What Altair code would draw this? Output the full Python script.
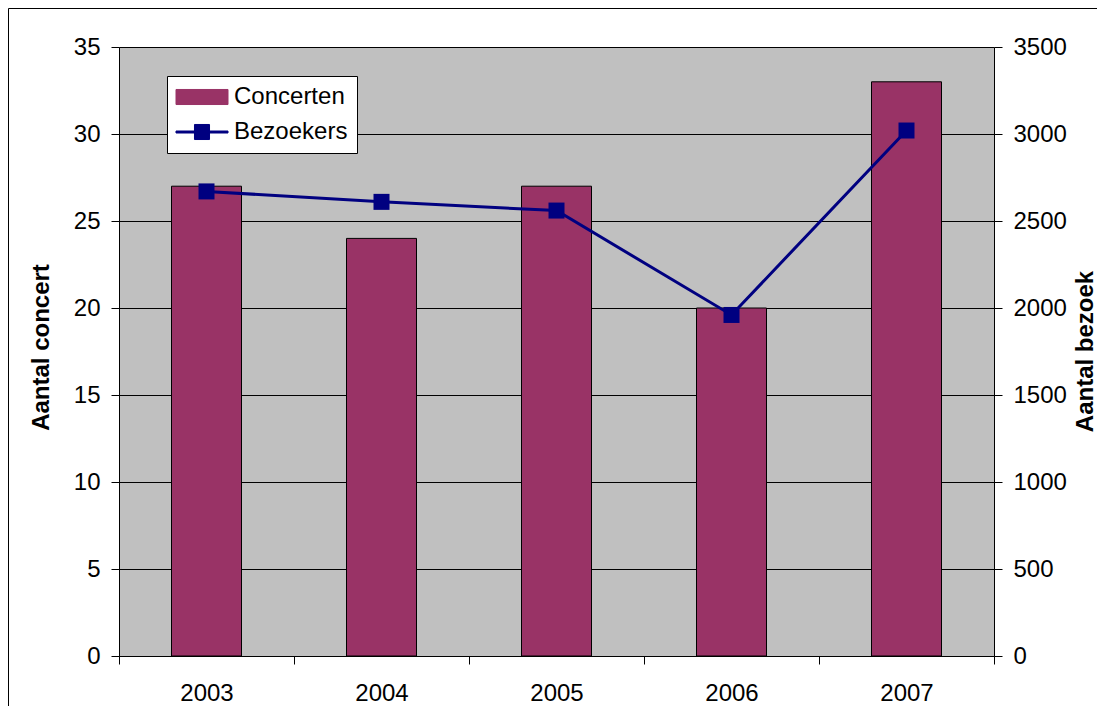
import altair as alt
import pandas as pd

years = [2003, 2004, 2005, 2006, 2007]
concerten = [27, 24, 27, 20, 33]
bezoekers = [2670, 2610, 2560, 1960, 3020]
series_names = ["Concerten", "Bezoekers"]
series_colors = ["#993366", "#000080"]
left_ticks = [0, 5, 10, 15, 20, 25, 30, 35]
right_ticks = [0, 500, 1000, 1500, 2000, 2500, 3000, 3500]
year_edges = [2002.5, 2003.5, 2004.5, 2005.5, 2006.5, 2007.5]

df = pd.DataFrame({"year": years, "Concerten": concerten, "Bezoekers": bezoekers})

W, H = 875, 609
FONT = "Liberation Sans"

color_scale = alt.Scale(domain=series_names, range=series_colors)
rect_path = "M-1.5,-0.94H5V0.94H-1.5Z"
line_path = "M-1.5,-0.125H5V0.125H-1.5Z M0.81,-0.94H2.69V0.94H0.81Z"

legend = alt.Legend(
    title=None, orient="none", legendX=48, legendY=29,
    fillColor="white", strokeColor="black", padding=9, cornerRadius=0,
    rowPadding=11, labelOffset=34, labelFontSize=24, labelFont=FONT,
    labelColor="black", symbolSize=256, symbolStrokeWidth=1, symbolOpacity=1,
    symbolType={"expr": f"datum.value === 'Concerten' ? '{rect_path}' : '{line_path}'"},
    symbolStrokeColor={"expr": "datum.value === 'Concerten' ? 'black' : '#000080'"},
    symbolFillColor={"expr": "datum.value === 'Concerten' ? '#993366' : '#000080'"},
)

xscale = alt.Scale(domain=[2002.5, 2007.5], nice=False, zero=False, padding=0)

base = alt.Chart(df)

bars = base.transform_calculate(series="'Concerten'").mark_bar(
    size=70, stroke="black", strokeWidth=1
).encode(
    x=alt.X("year:Q", scale=xscale, axis=alt.Axis(
        values=years, format="d", ticks=False, tickSize=0, labelPadding=25,
        grid=False, orient="bottom", title=None, domainColor="black",
        labelFontSize=24, labelFont=FONT, labelColor="black")),
    y=alt.Y("Concerten:Q", scale=alt.Scale(domain=[0, 35], nice=False), axis=alt.Axis(
        values=left_ticks, format="d", grid=True, gridColor="black", gridWidth=1,
        gridOpacity=1, tickSize=8, tickColor="black", domainColor="black",
        labelPadding=11, labelFontSize=24, labelFont=FONT, labelColor="black",
        title="Aantal concert", titleFontSize=24, titleFont=FONT, titleFontWeight="bold",
        titleColor="black", titleAngle=270, titleX=-78, titleY=300,
        titleBaseline="middle", titleAlign="center")),
    color=alt.Color("series:N", scale=color_scale, legend=legend),
)

line = base.transform_calculate(series="'Bezoekers'").mark_line(
    strokeWidth=3,
    point=alt.OverlayMarkDef(shape="square", size=256, filled=True, opacity=1),
).encode(
    x=alt.X("year:Q", scale=xscale, axis=alt.Axis(
        values=year_edges, labels=False, ticks=True, tickSize=8, tickColor="black",
        domain=False, grid=False, orient="bottom", title=None)),
    y=alt.Y("Bezoekers:Q", scale=alt.Scale(domain=[0, 3500], nice=False), axis=alt.Axis(
        orient="right", values=right_ticks, format="d", grid=False,
        tickSize=8, tickColor="black", domainColor="black", labelPadding=11,
        labelFontSize=24, labelFont=FONT, labelColor="black",
        title="Aantal bezoek", titleFontSize=24, titleFont=FONT, titleFontWeight="bold",
        titleColor="black", titleAngle=270, titleX=91, titleY=304,
        titleBaseline="middle", titleAlign="center")),
    color=alt.Color("series:N", scale=color_scale, legend=legend),
)

frame = alt.Chart(pd.DataFrame({"f": [0]})).mark_rect(
    fillOpacity=0, stroke="black", strokeWidth=1
).encode(
    x=alt.value(-110.5), x2=alt.value(W + 400),
    y=alt.value(-38.5), y2=alt.value(H + 400),
)

chart = alt.layer(bars, line, frame).resolve_scale(
    y="independent"
).resolve_axis(
    x="independent", y="independent"
).properties(
    width=W, height=H,
    padding={"left": 111, "top": 39, "right": 103, "bottom": 50},
    autosize=alt.AutoSizeParams(type="none"),
    background="white",
).configure_view(
    fill="#C0C0C0", strokeWidth=0
)

chart.save("out.html", embed_options={"renderer": "svg", "actions": False})
